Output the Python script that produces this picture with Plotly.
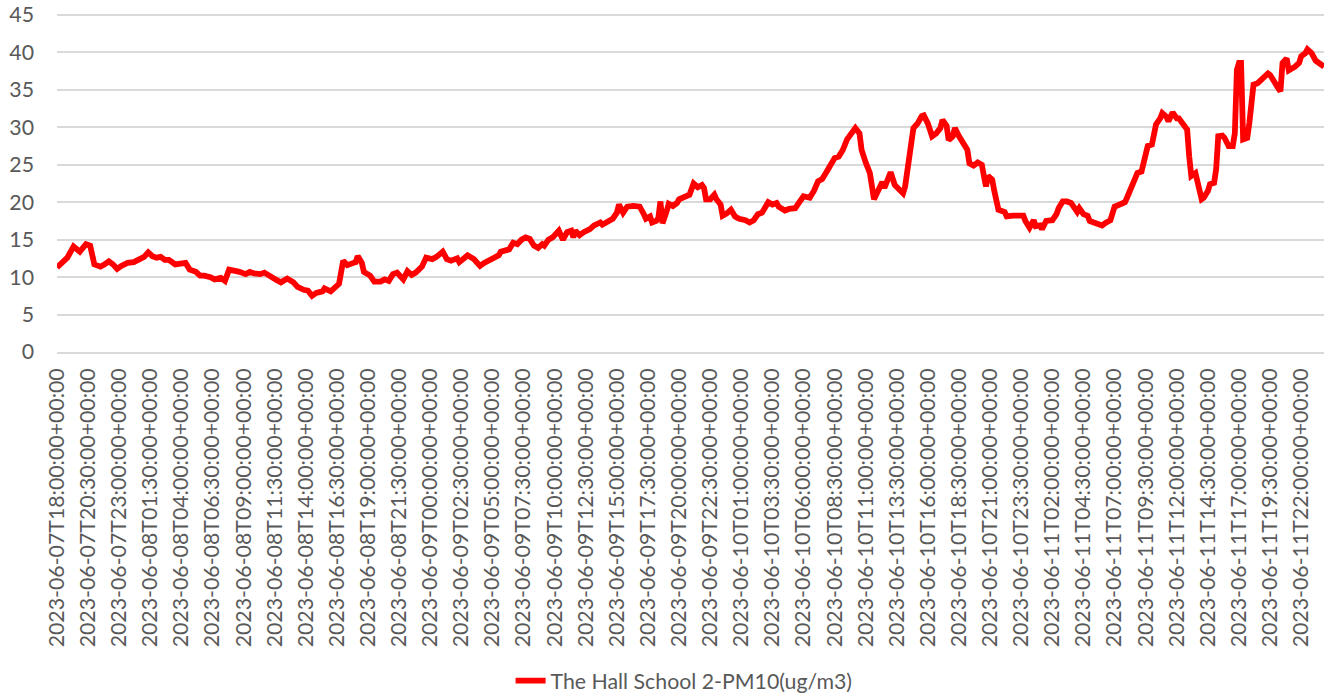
import numpy as np
import pandas as pd
import plotly.graph_objects as go

# ---- data: 10-minute readings, sample number counted from 2023-06-07T18:00 ----
series_name = "The Hall School 2-PM10(ug/m3)"
start_time = "2023-06-07T18:00:00"
end_time = "2023-06-11T23:50:00"

reading_no = [
    0, 3, 5, 8, 11, 14, 16, 18, 21, 23, 25, 27, 29, 31, 34, 37, 39, 42, 44, 46, 48, 50,
    52, 54, 57, 60, 62, 64, 67, 69, 71, 74, 76, 79, 81, 83, 86, 88, 91, 93, 95, 98, 100,
    103, 106, 108, 111, 114, 116, 119, 121, 123, 125, 128, 129, 132, 134, 136, 138, 140,
    143, 144, 145, 147, 148, 151, 153, 156, 158, 160, 162, 164, 167, 169, 171, 173, 176,
    178, 181, 183, 186, 188, 190, 193, 194, 196, 198, 201, 204, 206, 209, 211, 213, 214,
    217, 218, 220, 222, 224, 226, 228, 230, 232, 234, 235, 237, 239, 241, 242, 244, 246,
    248, 249, 250, 252, 254, 257, 259, 262, 263, 265, 267, 268, 270, 271, 273, 275, 278,
    281, 283, 284, 286, 287, 289, 290, 291, 292, 294, 295, 297, 299, 300, 303, 305, 307,
    309, 311, 312, 313, 315, 317, 318, 320, 321, 323, 325, 327, 329, 332, 334, 336, 338,
    340, 343, 345, 347, 348, 351, 353, 356, 358, 360, 363, 365, 367, 369, 371, 373, 375,
    377, 379, 381, 383, 385, 387, 388, 390, 392, 394, 396, 398, 399, 401, 402, 404, 406,
    408, 409, 411, 413, 415, 417, 418, 420, 422, 424, 426, 427, 429, 430, 432, 433, 435,
    437, 439, 440, 442, 444, 446, 447, 448, 449, 451, 452, 453, 454, 457, 458, 461, 462,
    464, 466, 467, 469, 471, 472, 474, 475, 477, 479, 480, 482, 483, 485, 487, 489, 491,
    492, 493, 495, 497, 498, 500, 503, 504, 506, 507, 508, 510, 512, 515, 516, 518, 520,
    521, 523, 524, 526, 528, 529, 530, 532, 533, 535, 536, 538, 540, 541, 543, 545, 546,
    547, 549, 550, 552, 553, 555, 556, 558, 559, 560, 562, 563, 565, 567, 568, 569, 570,
    571, 572, 574, 575, 576, 577, 579, 581, 584, 585, 587, 589, 590, 591, 593, 594, 597,
    599, 600, 602, 603, 605, 607, 609, 611,
]

pm10 = [
    11.3, 12.2, 12.6, 14.1, 13.4, 14.4, 14.2, 11.7, 11.4, 11.7, 12.1, 11.7, 11.1, 11.5, 11.9, 12.0, 12.3, 12.7, 13.3, 12.8, 12.6, 12.7,
    12.3, 12.3, 11.7, 11.9, 11.9, 11.0, 10.7, 10.2, 10.2, 10.0, 9.7, 9.9, 9.5, 11.0, 10.9, 10.7, 10.4, 10.7, 10.5, 10.4, 10.6,
    10.2, 9.6, 9.3, 9.8, 9.3, 8.7, 8.3, 8.2, 7.5, 7.9, 8.1, 8.5, 8.1, 8.6, 9.1, 12.2, 11.6,
    11.9, 12.0, 12.8, 11.9, 10.7, 10.2, 9.4, 9.4, 9.7, 9.5, 10.4, 10.6, 9.7, 10.8, 10.3, 10.6, 11.4,
    12.6, 12.4, 12.7, 13.4, 12.4, 12.2, 12.5, 12.0, 12.5, 12.9, 12.4, 11.5, 11.9, 12.3, 12.7, 12.9, 13.4,
    13.5, 13.7, 14.6, 14.4, 15.0, 15.3, 15.1, 14.2, 13.9, 14.4, 14.2, 15.0, 15.3, 15.9, 16.2, 15.0, 16.0,
    16.2, 15.3, 16.2, 15.6, 16.0, 16.4, 16.9, 17.3, 17.0, 17.3, 17.8, 17.8, 18.6, 19.7, 18.6, 19.4, 19.5,
    19.4, 18.4, 17.8, 18.1, 17.3, 17.5, 17.9, 20.1, 17.2, 18.8, 19.8, 19.5, 19.9, 20.4, 20.8, 21.0, 22.5,
    22.0, 22.3, 21.9, 20.4, 20.4, 21.0, 20.4, 19.7, 18.2, 18.5, 19.0, 18.1, 17.8, 17.6, 17.3, 17.6, 18.4,
    18.6, 20.0, 19.7, 19.9, 19.4, 18.9, 19.1, 19.2, 20.0, 20.8, 20.6, 21.5, 22.8, 23.1, 24.0, 25.0, 25.9,
    26.1, 27.0, 28.4, 29.3, 29.9, 29.2, 27.0, 25.3, 23.9, 20.4, 21.8, 22.7, 21.9, 23.7, 24.0, 22.3, 21.7,
    21.2, 22.1, 25.7, 29.9, 30.5, 31.5, 31.6, 30.5, 28.8, 29.2, 29.9, 31.0, 30.2, 28.3, 28.8, 29.9, 28.8,
    27.9, 27.0, 25.2, 24.9, 25.3, 25.0, 23.5, 22.1, 23.5, 23.0, 21.5, 19.7, 19.0, 18.7, 18.1, 18.2, 18.2,
    18.1, 18.2, 17.5, 16.6, 17.6, 16.8, 16.9, 16.4, 17.5, 17.7, 17.6, 18.4, 19.2, 20.1, 20.1, 19.9, 19.1,
    18.7, 19.2, 18.4, 18.2, 17.5, 17.3, 17.0, 16.9, 17.3, 17.5, 17.6, 19.4, 19.7, 20.0, 20.6, 21.9, 23.2,
    23.9, 24.1, 25.5, 27.5, 27.7, 29.7, 30.4, 31.2, 31.9, 31.4, 30.8, 32.0, 31.2, 31.2, 30.4, 29.7, 26.1,
    23.5, 23.9, 22.8, 20.4, 20.6, 21.5, 22.4, 22.6, 24.4, 28.8, 28.9, 28.6, 27.5, 27.5, 29.2, 37.7, 38.6,
    38.6, 28.4, 28.6, 30.6, 34.1, 35.7, 35.9, 36.4, 37.2, 37.0, 35.9, 35.2, 34.8, 38.6, 39.2, 37.6, 38.1,
    38.6, 39.5, 39.9, 40.4, 39.9, 38.9, 38.5, 38.1,
]

tick_times = pd.date_range("2023-06-07T18:00:00", "2023-06-11T22:00:00", freq="150min")
tick_labels = [t.strftime("%Y-%m-%dT%H:%M:%S+00:00") for t in tick_times]
y_ticks = [0, 5, 10, 15, 20, 25, 30, 35, 40, 45]

# ---- build ----
times = pd.Timestamp(start_time) + pd.to_timedelta(np.array(reading_no) * 10, unit="min")

FONT = "Lato, 'Open Sans', sans-serif"
TXT = "#595959"
GRID = "#D9D9D9"
FS = 21.3

fig = go.Figure()
fig.add_trace(go.Scatter(
    x=times, y=pm10, mode="lines", name=series_name,
    line=dict(color="#FF0000", width=5.8),
))

# plot area is 340 px tall; the 45 gridline sits 3 px below its top edge so it stays visible
Y_TOP = 45 * 340 / 337

fig.update_layout(
    width=1334, height=700,
    margin=dict(l=57, r=10, t=12, b=348, autoexpand=False),
    paper_bgcolor="white", plot_bgcolor="white",
    font=dict(family=FONT, color=TXT, size=FS),
    showlegend=True,
    legend=dict(orientation="h", x=0.358, xanchor="left", y=-0.967, yanchor="middle",
                font=dict(size=FS, color=TXT)),
)
fig.update_xaxes(
    type="date", range=[start_time, end_time], automargin=False,
    tickmode="array", tickvals=tick_times, ticktext=tick_labels,
    tickangle=-90, tickfont=dict(size=FS, color=TXT, family=FONT),
    showgrid=False, showline=True, linecolor=GRID, linewidth=1.5, ticks="",
    ticklabelstandoff=6,
)
fig.update_yaxes(
    range=[0, Y_TOP], tickmode="array", tickvals=y_ticks, automargin=False,
    showgrid=True, gridcolor=GRID, gridwidth=1.5, zeroline=False,
    tickfont=dict(size=FS, color=TXT, family=FONT), ticks="", ticklabelstandoff=22,
)

fig.write_html(
    "out.html",
    config={"displayModeBar": False},
    post_script="document.body.style.margin='0';document.body.style.overflow='hidden';",
)
